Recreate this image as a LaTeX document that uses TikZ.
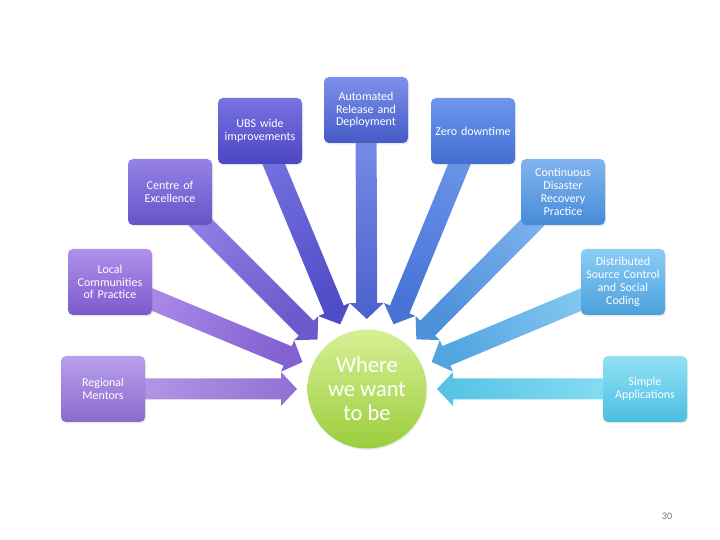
\documentclass[tikz,border=0pt]{standalone}
\usepackage{fontspec}
\setmainfont{Carlito}
\usetikzlibrary{calc,shadows}
\pgfdeclarelayer{background}
\pgfsetlayers{background,main}
\definecolor{t1}{HTML}{B9A0EB}\definecolor{b1}{HTML}{8C69CD}
\definecolor{t2}{HTML}{AF91EB}\definecolor{b2}{HTML}{7D5ACD}
\definecolor{t3}{HTML}{9682E6}\definecolor{b3}{HTML}{6455C8}
\definecolor{t4}{HTML}{7873E1}\definecolor{b4}{HTML}{4B46C3}
\definecolor{t5}{HTML}{7D91EB}\definecolor{b5}{HTML}{465AC8}
\definecolor{t6}{HTML}{6E96EB}\definecolor{b6}{HTML}{416ED2}
\definecolor{t7}{HTML}{82B4F0}\definecolor{b7}{HTML}{468CD7}
\definecolor{t8}{HTML}{8CCDF5}\definecolor{b8}{HTML}{4BA0DC}
\definecolor{t9}{HTML}{91E1F5}\definecolor{b9}{HTML}{4BBEE1}
\definecolor{gtop}{HTML}{D7F096}
\definecolor{gbot}{HTML}{9BCD3C}
\newcommand\bigarr[3]{% #1 box name, #2 shading angle, #3 colour index
  \begin{pgfonlayer}{background}
  \shade[top color=b#3!88!t#3, bottom color=t#3, shading angle=#2]
    let \p1=($(#1.center)-(c.center)$), \n1={atan2(\y1,\x1)} in
    ($(c.center)+(\n1:70pt)$)
    -- ($(c.center)+(\n1:86pt)+(\n1+90:17pt)$)
    -- ($(c.center)+(\n1:86pt)+(\n1+90:10.5pt)$)
    -- ($(#1.center)+(\n1+90:10.5pt)$)
    -- ($(#1.center)+(\n1-90:10.5pt)$)
    -- ($(c.center)+(\n1:86pt)+(\n1-90:10.5pt)$)
    -- ($(c.center)+(\n1:86pt)+(\n1-90:17pt)$)
    -- cycle;
  \end{pgfonlayer}}
\begin{document}
\begin{tikzpicture}[x=1pt,y=1pt,
  box/.style={rounded corners=5pt, minimum width=84pt, minimum height=66pt,
    text width=82pt, align=center, text=white, inner sep=1pt,
    font=\fontsize{12}{12.8}\selectfont,
    top color=t#1, bottom color=b#1,
    drop shadow={opacity=0.18, shadow xshift=1pt, shadow yshift=-1.5pt}},
  hub/.style={circle, minimum size=119pt, inner sep=0pt, align=center,
    text=white, font=\fontsize{22.5}{24}\selectfont,
    top color=gtop, bottom color=gbot,
    drop shadow={opacity=0.15, shadow xshift=1pt, shadow yshift=-1.5pt}},
  pnum/.style={text=black!55, font=\fontsize{10}{12}\selectfont}
]
\useasboundingbox (0,0) rectangle (720,540);
\node[hub] (c) at (367,151) {Where\\we want\\to be};
\node[box=1] (n1) at (103,151) {Regional\\Mentors};
\node[box=2] (n2) at (110,258) {Local\\Communities\\of Practice};
\node[box=3] (n3) at (170,348) {Centre of\\Excellence};
\node[box=4] (n4) at (260,409) {UBS wide\\improvements};
\node[box=5] (n5) at (366,430) {Automated\\Release and\\Deployment};
\node[box=6] (n6) at (473,409) {Zero downtime};
\node[box=7] (n7) at (563,348) {Continuous\\Disaster\\Recovery\\Practice};
\node[box=8] (n8) at (623,258) {Distributed\\Source Control\\and Social\\Coding};
\node[box=9] (n9) at (645,151) {Simple\\Applications};
\bigarr{n1}{270}{1}
\bigarr{n2}{247}{2}
\bigarr{n3}{225}{3}
\bigarr{n4}{202}{4}
\bigarr{n5}{180}{5}
\bigarr{n6}{157}{6}
\bigarr{n7}{135}{7}
\bigarr{n8}{112}{8}
\bigarr{n9}{90}{9}
\node[pnum] (pn) at (667,24) {30};
\end{tikzpicture}
\end{document}
